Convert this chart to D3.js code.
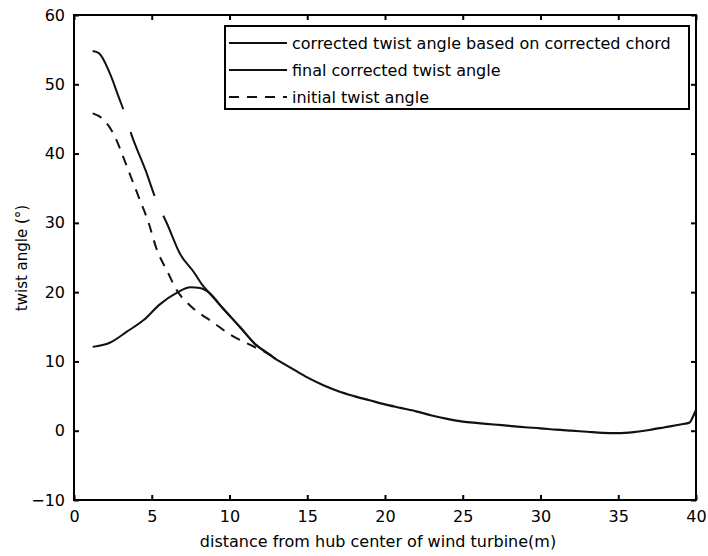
<!DOCTYPE html>
<html>
<head>
<meta charset="utf-8">
<script src="https://cdn.jsdelivr.net/npm/d3@7"></script>
<style>
  body { margin: 0; background: #fff; }
  text { font-family: "DejaVu Sans", sans-serif; fill: #000; }
</style>
</head>
<body>
<svg id="chart" width="708" height="556"></svg>
<script>
// values (x = distance in m, y = twist angle in degrees)
var tailX = [13, 14, 15, 16, 17, 18, 19, 20, 21, 22, 23, 24, 25, 26, 27, 28, 29, 30, 31, 32, 33, 34, 35, 36, 37, 38, 39, 39.6, 39.8, 40];
var tailY = [10.3, 9.0, 7.7, 6.6, 5.7, 5.0, 4.4, 3.8, 3.3, 2.8, 2.2, 1.7, 1.3, 1.1, 0.9, 0.7, 0.5, 0.35, 0.15, 0.0, -0.15, -0.3, -0.35, -0.2, 0.1, 0.5, 0.9, 1.2, 2.0, 3.0];

var initialX = [1.2, 1.8, 2.6, 3.2, 3.7, 4.2, 4.8, 5.3, 6.0, 6.6, 7.5, 8.9, 10.1, 11.5, 12.5];
var initialY = [45.8, 45.1, 42.6, 39.3, 36.4, 33.5, 30.0, 26.3, 23.0, 20.3, 18.0, 15.7, 13.8, 12.2, 11.1];

var finalX = [1.2, 2.3, 3.4, 4.5, 5.5, 6.6, 7.5, 8.1, 8.7, 9.6, 10.7, 11.6, 12.5];
var finalY = [12.1, 12.7, 14.3, 16.0, 18.2, 19.9, 20.7, 20.6, 19.9, 17.6, 14.9, 12.6, 11.1];

var chordX = [1.2, 1.6, 2.3, 2.9, 3.2, 3.7, 4.6, 5.3, 6.0, 6.8, 7.7, 8.2, 8.7, 9.6, 10.7, 11.6, 12.5];
var chordY = [54.8, 54.5, 51.6, 48.0, 46.2, 42.7, 37.6, 33.2, 29.8, 25.6, 22.9, 21.2, 19.9, 17.6, 14.9, 12.6, 11.1];

var xTicks = [0, 5, 10, 15, 20, 25, 30, 35, 40];
var yTicks = [-10, 0, 10, 20, 30, 40, 50, 60];

var legendLabels = ["corrected twist angle based on corrected chord", "final corrected twist angle", "initial twist angle"];

function pts(xs, ys) {
  return xs.map(function(d, i) { return [d, ys[i]]; });
}

var svg = d3.select("#chart");
var plotL = 74, plotR = 696, plotT = 15, plotB = 500;

var x = d3.scaleLinear().domain([0, 40]).range([plotL, plotR]);
var y = d3.scaleLinear().domain([-10, 60]).range([plotB, plotT]);

var line = d3.line()
  .x(function(d) { return x(d[0]); })
  .y(function(d) { return y(d[1]); })
  .curve(d3.curveMonotoneX);

// axes, ticks pointing inwards on all four sides
var tick = 5;
svg.append("g").attr("transform", "translate(0," + plotB + ")")
  .call(d3.axisBottom(x).tickValues(xTicks).tickSizeInner(-tick).tickSizeOuter(0).tickPadding(11))
  .call(function(g) { g.select(".domain").remove(); });
svg.append("g").attr("transform", "translate(0," + plotT + ")")
  .call(d3.axisTop(x).tickValues(xTicks).tickSizeInner(-tick).tickSizeOuter(0).tickFormat(""))
  .call(function(g) { g.select(".domain").remove(); });
svg.append("g").attr("transform", "translate(" + plotL + ",0)")
  .call(d3.axisLeft(y).tickValues(yTicks).tickSizeInner(-tick).tickSizeOuter(0).tickPadding(9))
  .call(function(g) { g.select(".domain").remove(); });
svg.append("g").attr("transform", "translate(" + plotR + ",0)")
  .call(d3.axisRight(y).tickValues(yTicks).tickSizeInner(-tick).tickSizeOuter(0).tickFormat(""))
  .call(function(g) { g.select(".domain").remove(); });

svg.selectAll(".tick line").attr("stroke", "#000").attr("stroke-width", 2);
svg.selectAll(".tick text").attr("font-size", 16).attr("font-family", "DejaVu Sans").attr("fill", "#000");

svg.append("rect")
  .attr("x", plotL).attr("y", plotT)
  .attr("width", plotR - plotL).attr("height", plotB - plotT)
  .attr("fill", "none").attr("stroke", "#000").attr("stroke-width", 2);

// curves
svg.append("path").datum(pts(tailX, tailY)).attr("d", line)
  .attr("fill", "none").attr("stroke", "#111").attr("stroke-width", 2.2);
svg.append("path").datum(pts(initialX, initialY).concat(pts(tailX, tailY).slice(0, 1))).attr("d", line)
  .attr("fill", "none").attr("stroke", "#111").attr("stroke-width", 2)
  .attr("stroke-dasharray", "10 8");
svg.append("path").datum(pts(chordX, chordY).concat(pts(tailX, tailY).slice(0, 1))).attr("d", line)
  .attr("fill", "none").attr("stroke", "#111").attr("stroke-width", 2)
  .attr("stroke-dasharray", "68 24 68 22 400");
svg.append("path").datum(pts(finalX, finalY).concat(pts(tailX, tailY).slice(0, 1))).attr("d", line)
  .attr("fill", "none").attr("stroke", "#111").attr("stroke-width", 2);

// legend
var lg = svg.append("g");
lg.append("rect").attr("x", 225).attr("y", 26).attr("width", 464).attr("height", 83)
  .attr("fill", "#fff").attr("stroke", "#000").attr("stroke-width", 2);
legendLabels.forEach(function(t, i) {
  var yy = 43 + i * 27;
  lg.append("line").attr("x1", 229).attr("x2", 287).attr("y1", yy).attr("y2", yy)
    .attr("stroke", "#111").attr("stroke-width", 2)
    .attr("stroke-dasharray", i === 2 ? "10 8" : null);
  lg.append("text").attr("x", 292).attr("y", yy).attr("dy", "0.35em")
    .attr("font-size", 16).text(t);
});

// axis titles
svg.append("text").attr("x", 378).attr("y", 541).attr("dy", "0.35em")
  .attr("text-anchor", "middle").attr("font-size", 16)
  .text("distance from hub center of wind turbine(m)");
svg.append("text").attr("transform", "translate(22,258) rotate(-90)")
  .attr("text-anchor", "middle").attr("dy", "0.35em").attr("font-size", 15)
  .text("twist angle (°)");
</script>
</body>
</html>
